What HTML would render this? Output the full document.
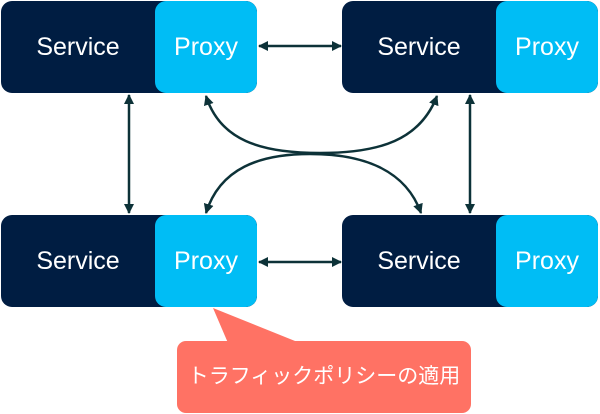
<!DOCTYPE html>
<html><head><meta charset="utf-8"><style>
html,body{margin:0;width:600px;height:414px;background:#fff;overflow:hidden;position:relative;font-family:"Liberation Sans","Noto Sans CJK JP",sans-serif}
.b{position:absolute;width:256px;height:92px;border-radius:11px;background:#001d42;overflow:hidden}
.s,.p{position:absolute;top:0;height:92px;line-height:92px;color:#fff;font-size:25px;text-align:center}
.s{left:0;width:154px}
.p{left:154px;width:102px;background:#00bdf5;border-radius:11px}
.c{position:absolute;left:177px;top:341px;width:294px;height:72px;background:#ff7264;border-radius:9px;color:#fff;font-size:21px;line-height:72px;text-align:center;white-space:nowrap}
</style></head><body>
<div class="b" style="left:1px;top:1px"><div class="s">Service</div><div class="p">Proxy</div></div>
<div class="b" style="left:342px;top:1px"><div class="s">Service</div><div class="p">Proxy</div></div>
<div class="b" style="left:1px;top:215px"><div class="s">Service</div><div class="p">Proxy</div></div>
<div class="b" style="left:342px;top:215px"><div class="s">Service</div><div class="p">Proxy</div></div>
<svg width="600" height="414" style="position:absolute;left:0;top:0">
<defs><marker id="a" markerWidth="10" markerHeight="10" refX="9" refY="5" orient="auto-start-reverse" markerUnits="userSpaceOnUse"><path d="M0,0 L10,5 L0,10 z" fill="#0d3238"/></marker></defs>
<g stroke="#0d3238" stroke-width="2.5" fill="none" marker-start="url(#a)" marker-end="url(#a)">
<line x1="259" y1="46" x2="341" y2="46"/>
<line x1="259" y1="262" x2="341" y2="262"/>
<line x1="129" y1="95" x2="129" y2="213"/>
<line x1="470" y1="95" x2="470" y2="213"/>
<path d="M206,96 C220,140 260,153 320,153 C380,153 420,140 437,96"/>
<path d="M206,213 C220,168 260,154 310,154 C360,154 405,168 421,213"/>
</g>
<polygon points="213,308 228,343 300,343" fill="#ff7264"/>
</svg>
<div class="c">トラフィックポリシーの適用</div>
</body></html>
